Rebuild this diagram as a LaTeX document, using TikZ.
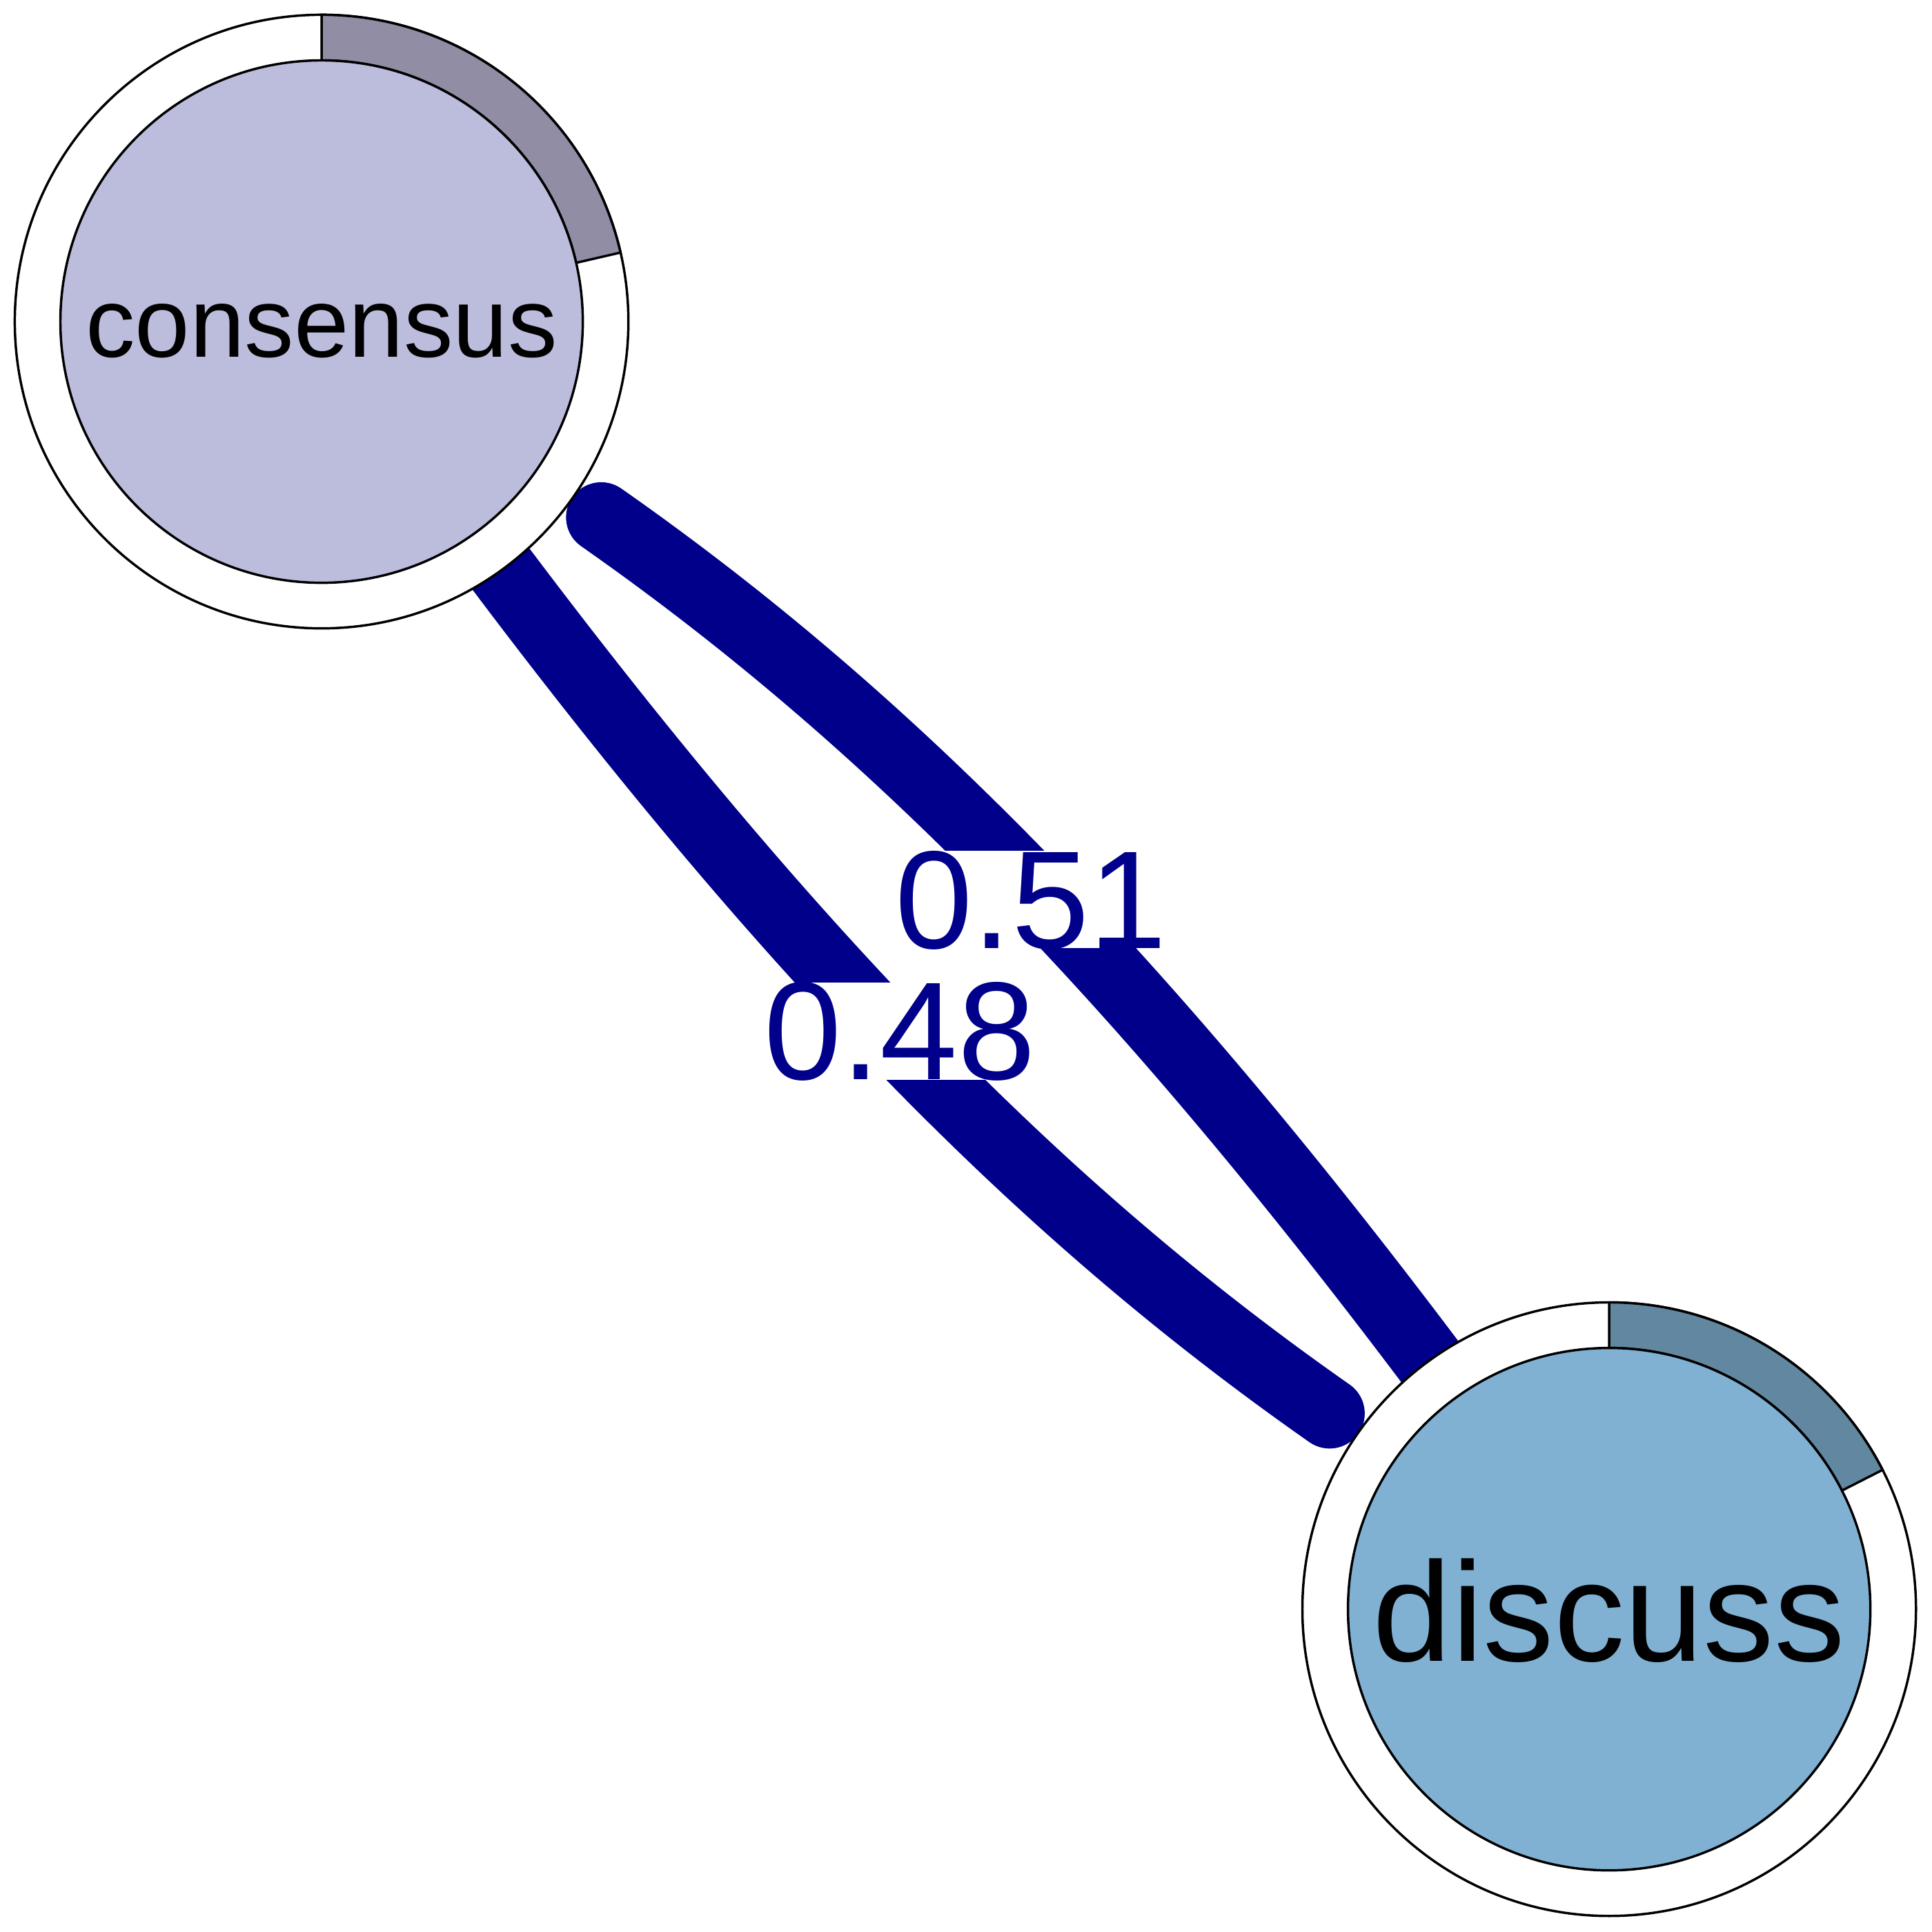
\documentclass[tikz,border=0pt]{standalone}
\usepackage{fontspec}
\setmainfont{Liberation Sans}
\pgfdeclarelayer{bg}
\pgfdeclarelayer{edgelayer}
\pgfsetlayers{bg,edgelayer,main}
\tikzstyle{ring} = [circle, draw, fill=white, line width=0.55pt, minimum size=49.8mm, inner sep=0pt]
\tikzstyle{core} = [circle, draw, line width=0.55pt, minimum size=42.4mm, inner sep=0pt]
\tikzstyle{piece} = [draw, line width=0.55pt]
\tikzstyle{link} = [edgeblue, line width=5.7mm, line cap=round, shorten <=27.7mm]
\tikzstyle{weight} = [fill=white, inner sep=0pt, text depth=0pt, text=edgeblue, font=\fontsize{32.2}{38}\selectfont]
\definecolor{edgeblue}{RGB}{0,0,139}
\definecolor{consfill}{RGB}{188,189,220}
\definecolor{conspie}{RGB}{144,141,164}
\definecolor{discfill}{RGB}{128,177,211}
\definecolor{discpie}{RGB}{98,135,161}

\begin{document}
\begin{tikzpicture}[x=0.1mm,y=0.1mm]
\begin{pgfonlayer}{bg}
\fill[white] (0,0) rectangle (1568,1568);
\end{pgfonlayer}
\useasboundingbox (0,0) rectangle (1568,1568);

% consensus
\node[ring] (consensus) at (261,1307) {};
\draw[piece, fill=conspie] ([shift={(90:212)}]consensus.center) -- ([shift={(90:249)}]consensus.center)
  arc[start angle=90, end angle=13, radius=249] -- ([shift={(13:212)}]consensus.center)
  arc[start angle=13, end angle=90, radius=212] -- cycle;
\node[core, fill=consfill] (consensus-in) at (consensus) {};
\node[anchor=base, font=\fontsize{22.8}{27}\selectfont] (consensus-text) at (261,1278) {consensus};

% discuss
\node[ring] (discuss) at (1306,262) {};
\draw[piece, fill=discpie] ([shift={(90:212)}]discuss.center) -- ([shift={(90:249)}]discuss.center)
  arc[start angle=90, end angle=27, radius=249] -- ([shift={(27:212)}]discuss.center)
  arc[start angle=27, end angle=90, radius=212] -- cycle;
\node[core, fill=discfill] (discuss-in) at (discuss) {};
\node[anchor=base, font=\fontsize{32.7}{38}\selectfont] (discuss-text) at (1306,220) {discuss};

\begin{pgfonlayer}{edgelayer}
\draw[link] (consensus.center) to[bend left=10] node[weight] {0.51} (discuss.center);
\draw[link] (discuss.center) to[bend left=10] node[weight] {0.48} (consensus.center);
\end{pgfonlayer}
\end{tikzpicture}
\end{document}
